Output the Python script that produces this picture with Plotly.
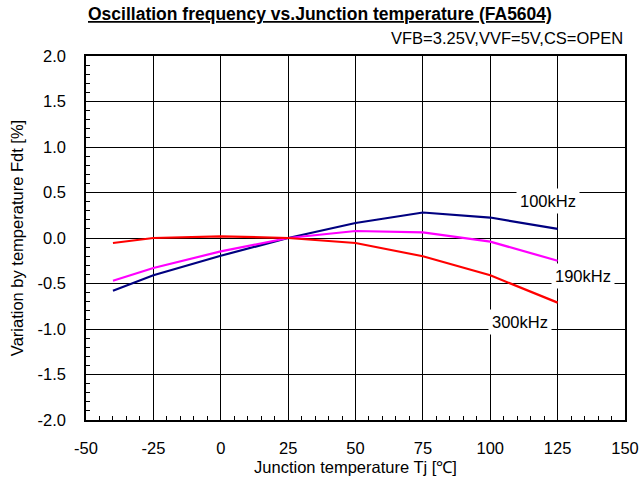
import plotly.graph_objects as go

temps = [-40, -25, 0, 25, 50, 75, 100, 125]
f100k = [-0.58, -0.41, -0.195, 0.0, 0.165, 0.28, 0.225, 0.10]
f190k = [-0.47, -0.33, -0.147, 0.0, 0.077, 0.062, -0.04, -0.25]
f300k = [-0.055, 0.0, 0.018, 0.0, -0.055, -0.20, -0.41, -0.71]

x_ticks = [-50, -25, 0, 25, 50, 75, 100, 125, 150]
x_labels = ["-50", "-25", "0", "25", "50", "75", "100", "125", "150"]
y_ticks = [-2.0, -1.5, -1.0, -0.5, 0.0, 0.5, 1.0, 1.5, 2.0]
y_labels = ["-2.0", "-1.5", "-1.0", "-0.5", "0.0", "0.5", "1.0", "1.5", "2.0"]

series = [("100kHz", f100k, "#000080"), ("190kHz", f190k, "#ff00ff"), ("300kHz", f300k, "#ff0000")]
label_pos = {"100kHz": (121.5, 0.41), "190kHz": (134.5, -0.415), "300kHz": (111.0, -0.92)}

FONT = "Liberation Sans, Arial, sans-serif"
FS = 16.5

fig = go.Figure()
for name, vals, col in series:
    fig.add_trace(go.Scatter(x=temps, y=vals, mode="lines", name=name,
                             line=dict(color=col, width=2.2)))
    lx, ly = label_pos[name]
    fig.add_annotation(x=lx, y=ly, text=name, showarrow=False, bgcolor="white",
                       font=dict(family=FONT, size=FS, color="black"), borderpad=3)

fig.add_annotation(xref="paper", yref="paper", x=0.434, y=1 + 42 / 364, xanchor="center",
                   yanchor="middle",
                   text="<b><u>Oscillation frequency vs.Junction temperature (FA5604)</u></b>",
                   showarrow=False, font=dict(family=FONT, size=17.5, color="black"))
fig.add_annotation(xref="paper", yref="paper", x=1.0, y=1 + 18 / 364, xanchor="right",
                   yanchor="middle", text="VFB=3.25V,VVF=5V,CS=OPEN",
                   showarrow=False, font=dict(family=FONT, size=FS, color="black"))

fig.update_layout(
    width=640, height=485,
    margin=dict(l=86, r=15, t=56, b=65),
    paper_bgcolor="white", plot_bgcolor="white",
    showlegend=False,
    font=dict(family=FONT, size=FS, color="black"),
)
fig.update_xaxes(range=[-50, 150], tickmode="array", tickvals=x_ticks, ticktext=x_labels,
                 showgrid=True, gridcolor="black", gridwidth=1, showline=True,
                 linecolor="black", linewidth=1.5, mirror=True, automargin=False,
                 ticks="inside", ticklen=0, zeroline=False, ticklabelstandoff=12,
                 minor=dict(dtick=5, tick0=-50, ticks="inside", ticklen=4, tickcolor="black",
                            showgrid=False),
                 title=dict(text="Junction temperature Tj [℃]", standoff=6,
                            font=dict(family=FONT, size=FS)),
                 tickfont=dict(family=FONT, size=FS))
fig.update_yaxes(range=[-2.0, 2.0], tickmode="array", tickvals=y_ticks, ticktext=y_labels,
                 showgrid=True, gridcolor="black", gridwidth=1, showline=True,
                 linecolor="black", linewidth=1.5, automargin=False,
                 mirror=True, ticks="inside", ticklen=0, zeroline=False, ticklabelstandoff=15,
                 minor=dict(dtick=0.1, tick0=-2.0, ticks="inside", ticklen=4, tickcolor="black",
                            showgrid=False),
                 title=dict(text="Variation by temperature Fdt [%]", standoff=10,
                            font=dict(family=FONT, size=FS)),
                 tickfont=dict(family=FONT, size=FS))

fig.write_html("out.html", config={"displayModeBar": False},
               post_script="document.body.style.margin='0';")
